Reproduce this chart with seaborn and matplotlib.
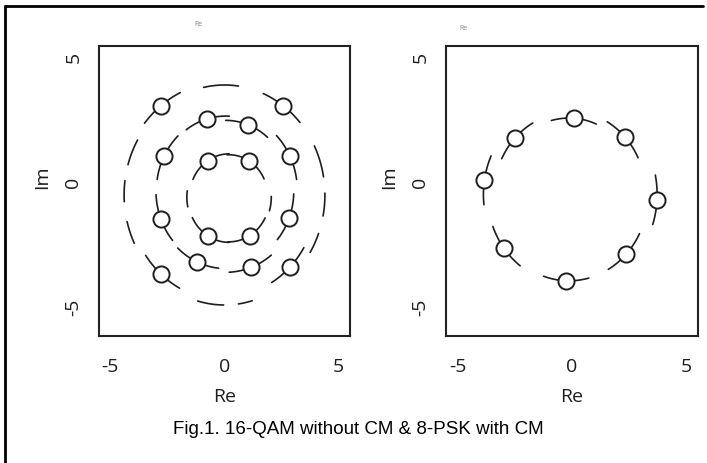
import numpy as np
import pandas as pd
import matplotlib
matplotlib.use("Agg")
import matplotlib.pyplot as plt
import seaborn as sns
from matplotlib.lines import Line2D

# 16-QAM symbols without CM (left panel)
qam_re = [-2.79, -0.78, 1.03, 2.57, -2.64, -0.74, 1.07, 2.86,
          -2.79, -0.74, 1.10, 2.83, -2.79, -1.22, 1.18, 2.86]
qam_im = [3.01, 2.48, 2.25, 3.01, 1.01, 0.81, 0.81, 1.01,
          -1.52, -2.19, -2.19, -1.49, -3.72, -3.23, -3.45, -3.45]
qam_ring = ["outer", "middle", "middle", "outer", "middle", "inner", "inner", "middle",
            "middle", "inner", "inner", "middle", "outer", "middle", "middle", "outer"]

# rings of the left panel (centre and radius)
ring_names = ["inner", "middle", "outer"]
ring_cx = [0.2, 0.05, 0.0]
ring_cy = [-0.65, -0.4, -0.56]
ring_r = [1.85, 3.05, 4.4]

# free dashes of the rings that carry no symbol (angle in degrees, half width in degrees)
outer_dash_deg = [18, 92, 157, 178, 200, 262, 282, 334, 355]
outer_dash_half = [8.5, 10, 7, 5.5, 6, 7.5, 4, 5.5, 6]
inner_dash_deg = [182, 352]
inner_dash_half = [10, 9]

# 8-PSK symbols with CM (right panel)
psk_re = [0.09, 2.32, 3.71, 2.37, -0.26, -2.97, -3.82, -2.50]
psk_im = [2.51, 1.75, -0.76, -2.92, -3.99, -2.69, 0.05, 1.71]
psk_cx = -0.13
psk_cy = -0.54

ticks = [-5, 0, 5]
tick_labels = ["-5", "0", "5"]
caption = "Fig.1. 16-QAM without CM & 8-PSK with CM"

INK = "#1e1e1e"
TAIL = 1.0  # half length of the trajectory piece through a symbol, data units

sns.set_style("white")
plt.rcParams["font.family"] = ["Open Sans", "DejaVu Sans"]


def arc_rows(seg, cx, cy, rho, theta, half, n=20):
    t = np.linspace(theta - half, theta + half, n)
    return [{"seg": seg, "x": cx + rho * np.cos(a), "y": cy + rho * np.sin(a)} for a in t]


def tail_rows(start, xs, ys, cxs, cys):
    rows = []
    for i, (x, y, cx, cy) in enumerate(zip(xs, ys, cxs, cys)):
        rho = np.hypot(x - cx, y - cy)
        theta = np.arctan2(y - cy, x - cx)
        rows += arc_rows(start + i, cx, cy, rho, theta, TAIL / rho)
    return rows


def style_axes(ax):
    ax.set_xlim(-5.5, 5.5)
    ax.set_ylim(-6.2, 5.4)
    ax.set_xticks(ticks, tick_labels)
    ax.set_yticks(ticks, tick_labels, rotation=90, va="center")
    ax.tick_params(length=0, labelsize=14, labelcolor=INK)
    ax.tick_params(axis="x", pad=15)
    ax.tick_params(axis="y", pad=12)
    for s in ax.spines.values():
        s.set_linewidth(1.5)
        s.set_color("#222222")
    ax.set_xlabel("Re", fontsize=14, color=INK, va="center")
    ax.xaxis.set_label_coords(0.5, -0.207)
    ax.set_ylabel("Im", fontsize=14, color=INK, va="center")
    ax.yaxis.set_label_coords(-0.227, 0.552)


fig = plt.figure(figsize=(7.07, 4.64), dpi=100)
ax1 = fig.add_axes([99 / 707, 1 - 337 / 464, 251 / 707, 290 / 464])
ax2 = fig.add_axes([446 / 707, 1 - 337 / 464, 252 / 707, 290 / 464])

# left: 16-QAM
ring = {n: (cx, cy, r) for n, cx, cy, r in zip(ring_names, ring_cx, ring_cy, ring_r)}
rows = tail_rows(0, qam_re, qam_im,
                 [ring[r][0] for r in qam_ring], [ring[r][1] for r in qam_ring])
seg = len(qam_re)
for name, angles, halves in [("outer", outer_dash_deg, outer_dash_half),
                             ("inner", inner_dash_deg, inner_dash_half)]:
    cx, cy, r = ring[name]
    for a, h in zip(angles, halves):
        rows += arc_rows(seg, cx, cy, r, np.radians(a), np.radians(h))
        seg += 1
qam_lines = pd.DataFrame(rows)
sns.lineplot(data=qam_lines, x="x", y="y", units="seg", estimator=None, sort=False,
             color=INK, lw=1.2, ax=ax1)
sns.scatterplot(x=qam_re, y=qam_im, s=135, color="white", edgecolor=INK,
                linewidth=1.4, ax=ax1, zorder=5)

# right: 8-PSK
psk_lines = pd.DataFrame(tail_rows(0, psk_re, psk_im,
                                   [psk_cx] * len(psk_re), [psk_cy] * len(psk_re)))
sns.lineplot(data=psk_lines, x="x", y="y", units="seg", estimator=None, sort=False,
             color=INK, lw=1.2, ax=ax2)
sns.scatterplot(x=psk_re, y=psk_im, s=135, color="white", edgecolor=INK,
                linewidth=1.4, ax=ax2, zorder=5)

for ax in (ax1, ax2):
    style_axes(ax)

# tiny "Re" captions above the panels
fig.text(198 / 707, 1 - 25 / 464, "Re", fontsize=5, color="#888888", ha="center", va="center")
fig.text(463 / 707, 1 - 29 / 464, "Re", fontsize=5, color="#888888", ha="center", va="center")

fig.text(358 / 707, 1 - 430 / 464, caption, fontsize=13.5, color="black",
         family=["Liberation Sans", "DejaVu Sans"], ha="center", va="center")

# frame around the figure (top and left edges)
fig.add_artist(Line2D([5 / 707, 703 / 707], [1 - 7 / 464, 1 - 7 / 464],
                      transform=fig.transFigure, color="black", lw=2))
fig.add_artist(Line2D([5 / 707, 5 / 707], [1 - 7 / 464, 0],
                      transform=fig.transFigure, color="black", lw=2))

fig.savefig("out.png", dpi=100)
